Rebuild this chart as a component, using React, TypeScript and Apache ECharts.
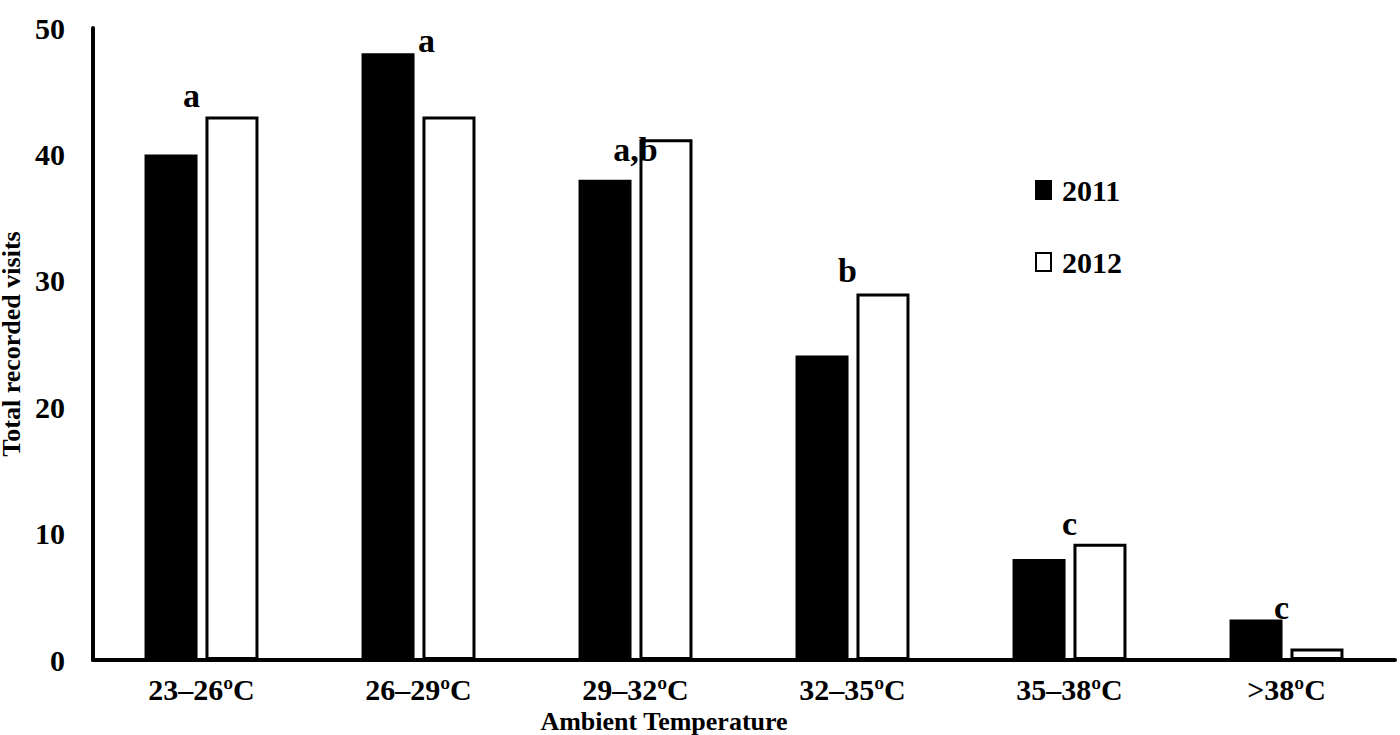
import React, { useEffect, useRef } from 'react';
import * as echarts from 'echarts';

const categories = ['23–26ºC', '26–29ºC', '29–32ºC', '32–35ºC', '35–38ºC', '>38ºC'];
const visits2011 = [40, 48, 38, 24.1, 8, 3.2];
const visits2012 = [43, 43, 41.2, 29, 9.2, 0.9];
const letters = ['a', 'a', 'a,b', 'b', 'c', 'c'];
const letterHeights = [43.3, 47.6, 39.0, 29.4, 9.4, 2.8];
const letterShift = [-10, 8, 0, -5, 0, -5];

const font = { fontFamily: 'Liberation Serif', fontWeight: 'bold' as const, color: '#000' };

const App: React.FC = () => {
  const chartRef = useRef<HTMLDivElement>(null);

  useEffect(() => {
    if (!chartRef.current) return;
    const chart = echarts.init(chartRef.current, undefined, { renderer: 'svg' });
    chart.setOption({
      animation: false,
      backgroundColor: '#fff',
      grid: { left: 93, right: 5, top: 28, bottom: 75, outerBoundsMode: 'none' },
      legend: {
        orient: 'vertical',
        left: 1030,
        top: 170,
        itemGap: 42,
        itemWidth: 15,
        itemHeight: 18,
        icon: 'rect',
        textStyle: { ...font, fontSize: 30, padding: [0, 0, 0, 6] },
        data: ['2011', '2012'],
      },
      xAxis: {
        type: 'category',
        data: categories,
        axisLine: { lineStyle: { color: '#000', width: 4 } },
        axisTick: { show: false },
        axisLabel: { ...font, fontSize: 30, margin: 14 },
        name: 'Ambient Temperature',
        nameLocation: 'middle',
        nameGap: 38,
        nameTextStyle: { ...font, fontSize: 26, padding: [0, 0, 0, -160] },
      },
      yAxis: {
        type: 'value',
        min: 0,
        max: 50,
        interval: 10,
        splitLine: { show: false },
        axisLine: { show: true, lineStyle: { color: '#000', width: 4 } },
        axisTick: { show: false },
        axisLabel: { ...font, fontSize: 30, margin: 28 },
        name: 'Total recorded visits',
        nameLocation: 'middle',
        nameGap: 44,
        nameTextStyle: { ...font, fontSize: 26 },
      },
      series: [
        {
          name: '2011',
          type: 'bar',
          data: visits2011,
          barWidth: 53,
          barGap: '15%',
          itemStyle: { color: '#000', borderColor: '#000', borderWidth: 2 },
        },
        {
          name: '2012',
          type: 'bar',
          data: visits2012,
          barWidth: 53,
          itemStyle: { color: '#fff', borderColor: '#000', borderWidth: 3 },
        },
        {
          type: 'scatter',
          symbolSize: 1,
          itemStyle: { color: 'rgba(0,0,0,0)', opacity: 1 },
          data: letterHeights.map((v, i) => ({
            value: [categories[i], v],
            label: { offset: [letterShift[i], 0] },
          })),
          label: {
            show: true,
            position: 'top',
            distance: 0,
            ...font,
            fontSize: 34,
            textBorderWidth: 0,
            formatter: (p: any) => letters[p.dataIndex],
          },
        },
      ],
    });
    return () => chart.dispose();
  }, []);

  return (
    <div
      ref={chartRef}
      style={{ position: 'absolute', left: 0, top: 0, width: 1400, height: 735 }}
    />
  );
};

export default App;
